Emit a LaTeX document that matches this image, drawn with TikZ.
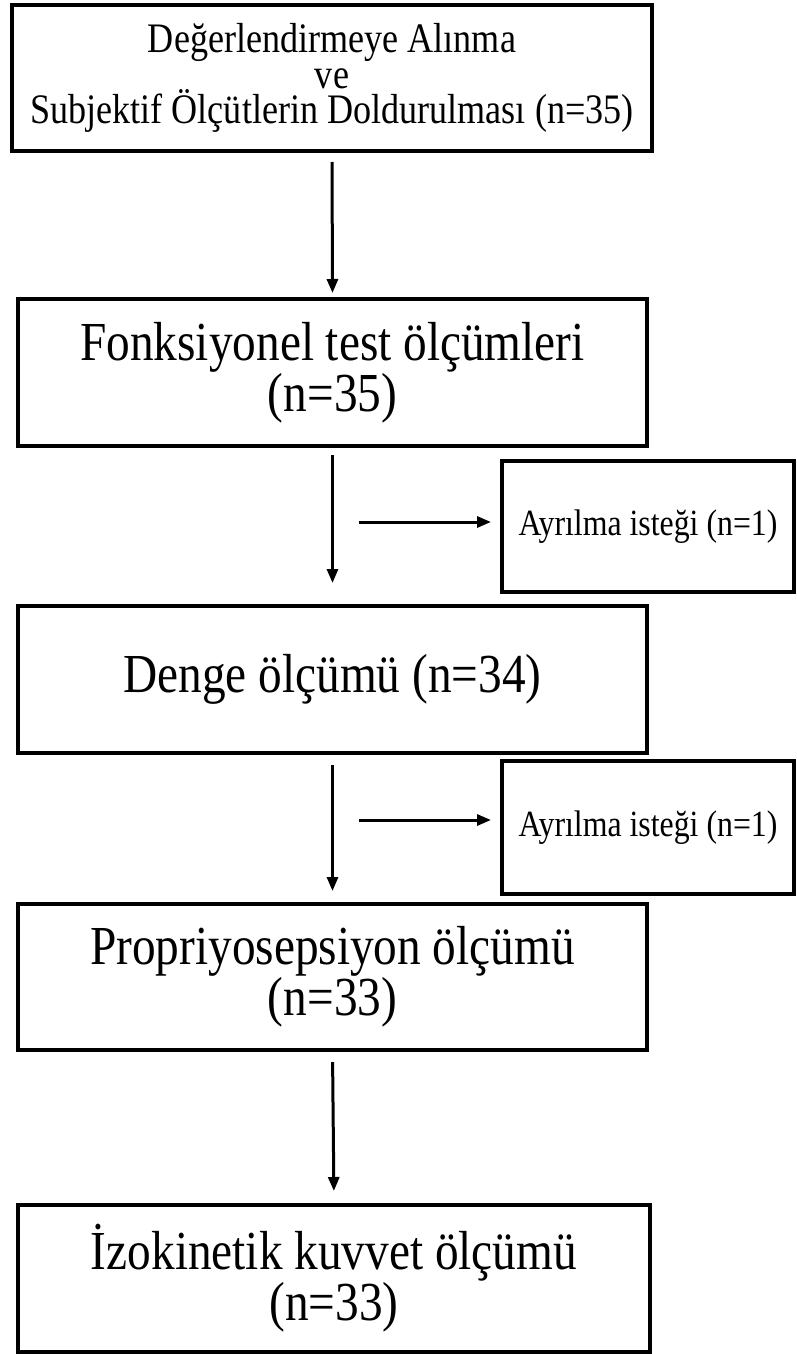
\documentclass[tikz,border=0pt]{standalone}
\usepackage{fontspec}
\setmainfont{Liberation Serif}[FakeStretch=0.86]
\usetikzlibrary{arrows.meta}
\begin{document}
\begin{tikzpicture}[x=1pt,y=-1pt,
 box/.style={draw,line width=4pt,inner sep=0pt,align=center},
 arr/.style={line width=3pt,-{Triangle[length=14pt,width=11pt]}},
 topfont/.style={font=\fontsize{42}{35.5}\selectfont},
 bigfont/.style={font=\fontsize{55}{46}\selectfont},
 sidefont/.style={font=\fontsize{37}{34}\selectfont}]
\useasboundingbox[fill=white] (0,0) rectangle (797,1354);
\node[box,topfont,minimum width=640pt,minimum height=146pt] (b1) at (332,78)
  {Değerlendirmeye Alınma\\ve\\Subjektif Ölçütlerin Doldurulması (n=35)};
\node[box,bigfont,minimum width=629pt,minimum height=147pt] (b2) at (332.5,372.5)
  {Fonksiyonel test ölçümleri\\(n=35)};
\node[box,bigfont,minimum width=629pt,minimum height=147pt] (b3) at (332.5,679.5)
  {Denge ölçümü (n=34)};
\node[box,bigfont,minimum width=629pt,minimum height=146pt] (b4) at (332.5,977)
  {Propriyosepsiyon ölçümü\\(n=33)};
\node[box,bigfont,minimum width=632pt,minimum height=147pt] (b5) at (334,1278.5)
  {İzokinetik kuvvet ölçümü\\(n=33)};
\node[box,sidefont,minimum width=292pt,minimum height=131pt] (s1) at (648,526.5)
  {Ayrılma isteği (n=1)};
\node[box,sidefont,minimum width=292pt,minimum height=133pt] (s2) at (648,827.5)
  {Ayrılma isteği (n=1)};
\coordinate (h1) at (359,522);
\coordinate (h2) at (359,820);
\draw[arr,shorten <=9pt,shorten >=4pt] (b1.south) -- (b2.north);
\draw[arr,shorten <=7pt,shorten >=21pt] (b2.south) -- (b3.north);
\draw[arr,shorten <=10pt,shorten >=11pt] (b3.south) -- (b4.north);
\draw[arr,shorten <=10pt,shorten >=12pt] (b4.south) -- (b5.north);
\draw[arr,shorten >=9pt] (h1) -- (h1 -| s1.west);
\draw[arr,shorten >=9pt] (h2) -- (h2 -| s2.west);
\end{tikzpicture}
\end{document}
